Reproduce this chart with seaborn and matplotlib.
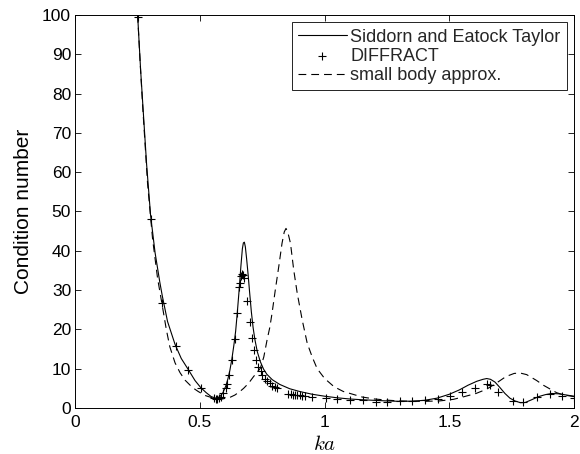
import numpy as np
import pandas as pd
import matplotlib
matplotlib.use("Agg")
import matplotlib.pyplot as plt
import seaborn as sns

# Siddorn and Eatock Taylor (solid curve)
ka_sid = [0.250, 0.262, 0.275, 0.286, 0.302, 0.320, 0.339, 0.349, 0.370, 0.400,
          0.425, 0.453, 0.480, 0.503, 0.525, 0.545, 0.565, 0.580, 0.592, 0.603,
          0.612, 0.620, 0.628, 0.636, 0.643, 0.650, 0.657, 0.664, 0.670, 0.674,
          0.678, 0.682, 0.687, 0.693, 0.699, 0.706, 0.713, 0.720, 0.730, 0.742,
          0.755, 0.768, 0.790, 0.820, 0.860, 0.900, 0.950, 1.000, 1.050, 1.100,
          1.150, 1.200, 1.250, 1.300, 1.350, 1.400, 1.450, 1.500, 1.540, 1.575,
          1.610, 1.635, 1.650, 1.665, 1.683, 1.703, 1.723, 1.743, 1.763, 1.785,
          1.804, 1.830, 1.858, 1.885, 1.911, 1.940, 1.970, 2.000]
cn_sid = [100.0, 86.0, 73.0, 62.0, 49.0, 39.5, 32.0, 28.5, 22.0, 16.2,
          12.6, 9.8, 7.0, 5.2, 3.9, 2.9, 2.5, 2.9, 3.9, 5.5,
          7.4, 9.6, 12.5, 16.0, 19.5, 24.5, 30.0, 36.0, 40.5, 42.0,
          42.2, 41.0, 38.0, 34.0, 29.5, 24.5, 20.5, 17.5, 14.3, 11.8,
          9.9, 8.6, 7.2, 6.0, 4.9, 4.2, 3.5, 3.0, 2.6, 2.3,
          2.1, 1.95, 1.8, 1.7, 1.75, 1.95, 2.5, 3.5, 4.6, 5.8,
          6.8, 7.3, 7.5, 7.3, 6.6, 5.2, 3.7, 2.5, 1.8, 1.35,
          1.4, 2.1, 2.9, 3.4, 3.7, 3.6, 3.3, 3.0]

# DIFFRACT results (plus markers)
ka_dif = [0.251, 0.302, 0.349, 0.402, 0.453, 0.503, 0.556, 0.563, 0.570, 0.578,
          0.586, 0.594, 0.603, 0.610, 0.618, 0.628, 0.641, 0.649, 0.655, 0.661,
          0.666, 0.670, 0.674, 0.678, 0.689, 0.700, 0.709, 0.716, 0.725, 0.732,
          0.743, 0.750, 0.760, 0.770, 0.780, 0.790, 0.800, 0.810, 0.855, 0.864,
          0.873, 0.882, 0.891, 0.900, 0.910, 0.920, 0.950, 1.006, 1.050, 1.100,
          1.154, 1.205, 1.252, 1.302, 1.350, 1.402, 1.455, 1.503, 1.550, 1.603,
          1.650, 1.662, 1.697, 1.757, 1.797, 1.851, 1.904, 1.951, 2.000]
cn_dif = [99.5, 48.0, 26.6, 15.8, 9.7, 5.0, 2.6, 2.4, 2.4, 2.5,
          2.9, 3.9, 5.2, 6.0, 8.4, 12.2, 17.6, 24.3, 30.9, 31.7,
          33.5, 34.0, 33.8, 33.2, 27.3, 22.0, 17.8, 14.8, 12.2, 10.5,
          9.5, 8.4, 7.5, 6.9, 6.3, 5.7, 5.4, 5.1, 3.6, 3.5,
          3.4, 3.3, 3.25, 3.2, 3.1, 3.0, 2.9, 2.6, 2.3, 2.0,
          1.95, 1.6, 1.6, 1.7, 1.8, 2.0, 2.2, 3.05, 4.2, 5.2,
          6.0, 5.8, 4.0, 1.8, 1.5, 2.7, 3.5, 3.1, 2.5]

# Small body approximation (dashed curve)
ka_sb = [0.250, 0.260, 0.270, 0.290, 0.310, 0.330, 0.349, 0.365, 0.379, 0.400,
         0.420, 0.440, 0.470, 0.493, 0.520, 0.554, 0.590, 0.620, 0.640, 0.660,
         0.675, 0.695, 0.715, 0.742, 0.756, 0.769, 0.780, 0.789, 0.802, 0.816,
         0.829, 0.838, 0.845, 0.852, 0.863, 0.876, 0.890, 0.910, 0.930, 0.950,
         0.970, 1.000, 1.038, 1.075, 1.118, 1.150, 1.200, 1.250, 1.300, 1.350,
         1.400, 1.460, 1.516, 1.560, 1.607, 1.650, 1.690, 1.727, 1.760, 1.784,
         1.810, 1.850, 1.877, 1.930, 1.960, 2.000]
cn_sb = [100.0, 88.0, 77.0, 57.0, 43.0, 33.0, 26.0, 20.0, 15.6, 11.5,
         9.0, 7.1, 5.2, 4.2, 3.2, 2.5, 2.3, 2.7, 3.3, 4.2,
         5.0, 6.3, 8.0, 10.1, 13.0, 17.3, 20.5, 24.1, 30.0, 36.0,
         41.9, 44.8, 45.7, 44.8, 41.9, 35.1, 29.2, 22.4, 16.5, 13.0,
         10.0, 7.5, 5.4, 4.2, 3.4, 2.8, 2.3, 2.0, 1.8, 1.7,
         1.7, 1.8, 2.2, 2.9, 3.7, 4.8, 6.4, 8.0, 8.8, 8.9,
         8.5, 7.0, 5.8, 3.9, 3.3, 2.9]

x_ticks = [0, 0.5, 1, 1.5, 2]
x_tick_labels = ["0", "0.5", "1", "1.5", "2"]
y_ticks = [0, 10, 20, 30, 40, 50, 60, 70, 80, 90, 100]

sns.set_theme(style="white")
plt.rcParams["font.family"] = ["Liberation Sans", "DejaVu Sans"]
plt.rcParams["mathtext.fontset"] = "cm"
plt.rcParams["xtick.direction"] = "in"
plt.rcParams["ytick.direction"] = "in"

df_sid = pd.DataFrame({"ka": ka_sid, "cn": cn_sid})
df_dif = pd.DataFrame({"ka": ka_dif, "cn": cn_dif})
df_sb = pd.DataFrame({"ka": ka_sb, "cn": cn_sb})

fig = plt.figure(figsize=(5.8, 4.54), dpi=100)
ax = fig.add_axes([0.1298, 0.1013, 0.8599, 0.8657])

sns.lineplot(data=df_sid, x="ka", y="cn", ax=ax, color="black", linewidth=0.8,
             errorbar=None, label="Siddorn and Eatock Taylor")
sns.scatterplot(data=df_dif, x="ka", y="cn", ax=ax, marker="+", s=38,
                color="black", linewidth=0.8, label="DIFFRACT", zorder=3)
sns.lineplot(data=df_sb, x="ka", y="cn", ax=ax, color="black", linewidth=0.8,
             linestyle=(0, (7, 4.5)), errorbar=None, label="small body approx.")

ax.set_xlim(0, 2)
ax.set_ylim(0, 100)
ax.set_xticks(x_ticks)
ax.set_xticklabels(x_tick_labels)
ax.set_yticks(y_ticks)
ax.tick_params(axis="both", which="major", labelsize=12.5, length=4, width=0.6,
               color="black", labelcolor="black", top=True, right=True,
               bottom=True, left=True)
ax.tick_params(axis="x", pad=5)
ax.tick_params(axis="y", pad=3)
for sp in ax.spines.values():
    sp.set_color("black")
    sp.set_linewidth(0.7)

ax.set_xlabel("$ka$", fontsize=15, color="black")
ax.xaxis.set_label_coords(0.5, -0.068)
ax.set_ylabel("Condition number", fontsize=15, color="black")
ax.yaxis.set_label_coords(-0.085, 0.5)

leg = ax.legend(loc="upper right", fontsize=13, frameon=True, fancybox=False,
                edgecolor="black", framealpha=1, handlelength=2.7,
                handletextpad=0.2, borderpad=0.35, labelspacing=0.12,
                borderaxespad=0.4)
leg.get_frame().set_linewidth(0.6)

fig.savefig("out.png", dpi=100)
